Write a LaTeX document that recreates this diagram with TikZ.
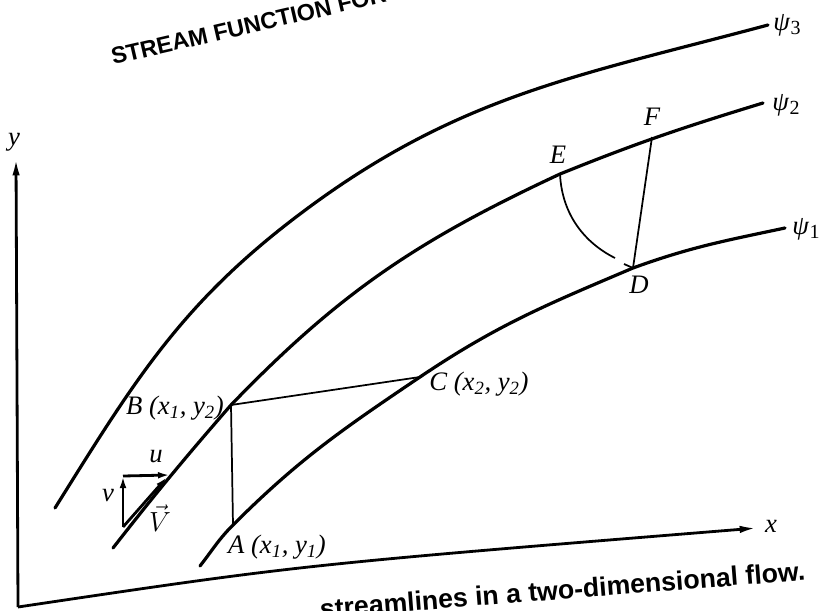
\documentclass[tikz,border=0pt]{standalone}
\usepackage{fontspec}
\setmainfont{Liberation Serif}
\newfontfamily\capfont{Liberation Sans}
\usetikzlibrary{arrows.meta}
\newcommand{\psisub}[1]{ψ\kern0.5pt\raisebox{-3.5pt}{\fontsize{15}{15}\selectfont\upshape #1}}
\begin{document}
\begin{tikzpicture}[x=0.75pt,y=-0.75pt,
  stream/.style={line width=2.4pt, line cap=round},
  thinln/.style={line width=1.3pt},
  axis/.style={line width=2.1pt, -{Latex[length=13pt,width=5.5pt]}},
  vecarrow/.style={line width=2.1pt, -{Latex[length=9pt,width=5pt]}},
  lbl/.style={font=\fontsize{20}{22}\selectfont\itshape, inner sep=0pt},
  psilbl/.style={font=\fontsize{20}{22}\selectfont\itshape, inner sep=0pt, anchor=west},
  caption/.style={font=\capfont\bfseries\fontsize{20}{24}\selectfont, inner sep=0pt},
  titletext/.style={font=\capfont\bfseries\fontsize{17.5}{20}\selectfont, inner sep=0pt}]
\useasboundingbox (0,0) rectangle (826,611);
\clip (0,0) rectangle (826,611);
\fill[white] (0,0) rectangle (826,611);

% key points
\coordinate (O) at (18,607);
\coordinate (ytip) at (16,158);
\coordinate (xtip) at (757,528);
\coordinate (A) at (233,525);
\coordinate (B) at (231,405);
\coordinate (C) at (420,377);
\coordinate (D) at (633,268);
\coordinate (E) at (560,174);
\coordinate (F) at (652,137);
\coordinate (p1s) at (200,566);
\coordinate (p1e) at (785,228);
\coordinate (p2s) at (113,548);
\coordinate (p2e) at (763,103);
\coordinate (p3s) at (55,508);
\coordinate (p3m) at (300,214);
\coordinate (p3e) at (768,25);
\coordinate (vb) at (123,527);
\coordinate (vt) at (123,476);
\coordinate (ut) at (170,475);
\coordinate (Vt) at (167,477);
\coordinate (Dtick) at (624,264);
\coordinate (Earc) at (615,258);

% axes
\draw[axis] (O) -- (ytip);
\draw[axis] (O) .. controls (300,565) .. (xtip);
\node[lbl] (ylab) at (14,142) {y};
\node[lbl] (xlab) at (771,526) {x};

% streamlines
\draw[stream] (p1s) to[out=52,in=225] (A) to[out=45,in=214] (C) to[out=34,in=203] (D) to[out=20,in=192] (p1e);
\draw[stream] (p2s) to[out=52,in=229] (B) to[out=46,in=205] (E) to[out=22,in=197] (p2e);
\draw[stream] (p3s) to[out=58,in=217] (p3m) to[out=37,in=195] (p3e);

% construction lines
\draw[thinln] (B) -- (A);
\draw[thinln] (B) -- (C);
\draw[thinln] (F) -- (D);
\draw[thinln] (Dtick) -- (D);
\draw[thinln] (E) .. controls (562,215) and (585,243) .. (Earc);

% velocity triangle
\draw[vecarrow] (vb) -- (vt);
\draw[vecarrow] (vt) -- (ut);
\draw[vecarrow] (vb) -- (Vt);

% labels
\node[lbl] (Alab) at (277,547) {A (x\textsubscript{1}, y\textsubscript{1})};
\node[lbl] (Blab) at (175,408) {B (x\textsubscript{1}, y\textsubscript{2})};
\node[lbl] (Clab) at (479,384) {C (x\textsubscript{2}, y\textsubscript{2})};
\node[lbl] (Dlab) at (639,285) {D};
\node[lbl] (Elab) at (558,155) {E};
\node[lbl] (Flab) at (652,117) {F};
\node[lbl] (ulab) at (156,457) {u};
\node[lbl] (vlab) at (108,496) {v};
\node[lbl] (Vlab) at (160,518) {$\vec{V}$};
\node[psilbl] (psi3) at (773,25) {\psisub{3}};
\node[psilbl] (psi2) at (772,105) {\psisub{2}};
\node[psilbl] (psi1) at (792,229) {\psisub{1}};

% title and caption
\node[titletext, anchor=base west, rotate=13] (title) at (113,65) {STREAM FUNCTION FOR};
\node[caption, anchor=base east, rotate=4.5] (capt) at (806,580) {streamlines in a two-dimensional flow.};
\end{tikzpicture}
\end{document}
